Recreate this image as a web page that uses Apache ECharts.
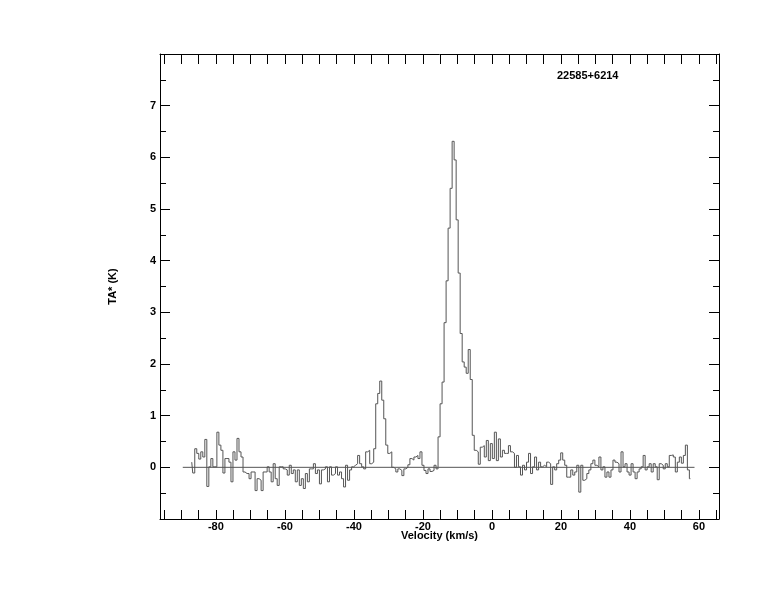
<!DOCTYPE html>
<html>
<head>
<meta charset="utf-8">
<script src="https://cdn.jsdelivr.net/npm/echarts@6/dist/echarts.min.js"></script>
<style>
html,body{margin:0;padding:0;background:#fff;}
#chart{width:774px;height:612px;}
</style>
</head>
<body>
<div id="chart"></div>
<script>
// ---- data ----
const sourceName = '22585+6214';
const velocityStart = -87.0;     // km/s, first channel centre
const channelWidth = 0.5827;     // km/s
const antennaTemp = [
 0.10,-0.11,0.36,0.27,0.16,0.30,0.20,0.54,-0.37,0.01,
 0.17,0.01,0.01,0.68,0.43,0.33,-0.11,0.17,0.17,0.10,
 -0.28,0.30,0.14,0.56,0.30,0.20,-0.09,-0.12,-0.12,-0.22,
 -0.09,-0.09,-0.45,-0.22,-0.25,-0.45,-0.09,-0.09,0.01,-0.09,
 -0.28,0.07,-0.22,-0.35,0.01,0.01,-0.03,-0.05,-0.15,0.04,
 -0.12,-0.05,-0.28,-0.05,-0.35,-0.22,-0.41,-0.12,-0.28,-0.03,
 -0.03,0.07,-0.12,-0.05,-0.32,-0.05,-0.03,0.01,-0.28,0.01,
 -0.15,-0.12,0.01,-0.15,-0.09,-0.22,-0.38,0.04,-0.25,-0.05,
 0.01,0.04,0.07,0.23,0.07,0.01,-0.03,0.30,0.33,0.07,
 0.10,0.36,
 1.23,1.43,1.67,1.30,0.94,0.43,0.27,0.30,
 0.0,-0.03,-0.09,-0.03,-0.06,-0.16,-0.03,0.0,0.05,0.17,
 0.14,0.20,0.23,0.17,0.30,0.04,-0.06,-0.12,-0.03,-0.08,
 -0.06,0.04,-0.03,
 0.59,1.23,1.65,2.80,3.61,4.63,5.40,6.31,5.95,4.79,
 3.76,2.59,2.04,1.94,1.82,2.28,1.70,0.62,
 0.33,0.30,0.06,0.39,0.42,0.20,0.52,0.13,0.46,0.17,
 0.68,0.13,0.55,0.20,0.33,0.27,0.27,0.42,0.30,0.27,
 0.0,
 0.23,0.01,-0.15,0.04,-0.05,0.10,0.27,-0.12,0.01,0.20,
 -0.05,0.10,0.01,0.04,0.01,0.10,0.07,-0.33,0.01,-0.05,
 0.07,0.14,0.28,0.14,0.04,-0.19,-0.19,-0.05,-0.15,-0.09,
 0.04,-0.48,0.04,-0.25,-0.22,-0.12,-0.05,0.07,0.14,0.04,
 0.01,0.20,-0.05,0.01,
 -0.19,-0.09,-0.19,-0.05,0.14,0.10,0.07,-0.09,0.30,0.01,
 0.07,-0.09,-0.15,0.07,-0.09,-0.22,-0.09,-0.03,0.01,0.23,
 -0.05,0.01,0.07,-0.09,0.07,0.01,-0.24,0.07,0.04,-0.03,
 0.07,0.01,0.23,0.24,0.20,-0.09,0.10,0.20,0.08,0.23,
 0.43,-0.05,-0.22
];
const baselineRange = [-89.6, 58.7];
const xTickValues = [-95,-90,-85,-80,-75,-70,-65,-60,-55,-50,-45,-40,-35,-30,-25,-20,-15,-10,-5,0,5,10,15,20,25,30,35,40,45,50,55,60,65];
const xLabelValues = [-80,-60,-40,-20,0,20,40,60];
const yLabelValues = [0,1,2,3,4,5,6,7];
const xRange = [-96.2, 65.8];
const yRange = [-1, 8];

// ---- build ----
const spectrum = antennaTemp.map((t, i) => [velocityStart + i * channelWidth, t]);
const baseline = baselineRange.map(v => [v, 0]);

const font = {color:'#000', fontFamily:'Liberation Sans, Arial, sans-serif', fontWeight:'bold', fontSize:11};

const chart = echarts.init(document.getElementById('chart'), null, {renderer:'canvas'});
chart.setOption({
  animation:false,
  backgroundColor:'#fff',
  title:{text:sourceName, left:557, top:70, padding:0, textStyle:Object.assign({}, font)},
  grid:{left:160, right:55, top:54, bottom:93, containLabel:false},
  xAxis:[
    {type:'value', position:'bottom', min:xRange[0], max:xRange[1],
     axisLine:{show:true, onZero:false, lineStyle:{color:'#000', width:1}},
     axisTick:{show:true, inside:true, length:9, customValues:xTickValues, lineStyle:{color:'#000'}},
     axisLabel:Object.assign({show:true, customValues:xLabelValues, margin:2}, font),
     splitLine:{show:false},
     name:'Velocity (km/s)', nameLocation:'middle', nameGap:11, nameMoveOverlap:false,
     nameTextStyle:Object.assign({}, font)},
    {type:'value', position:'top', min:xRange[0], max:xRange[1],
     axisLine:{show:true, onZero:false, lineStyle:{color:'#000', width:1}},
     axisTick:{show:true, inside:true, length:10, customValues:xTickValues, lineStyle:{color:'#000'}},
     axisLabel:{show:false}, splitLine:{show:false}}
  ],
  yAxis:[
    {type:'value', position:'left', min:yRange[0], max:yRange[1], interval:1,
     axisLine:{show:true, onZero:false, lineStyle:{color:'#000', width:1}},
     axisTick:{show:true, inside:true, length:10, lineStyle:{color:'#000'}},
     minorTick:{show:true, splitNumber:2, length:6, lineStyle:{color:'#000'}},
     axisLabel:Object.assign({show:true, customValues:yLabelValues, margin:4}, font),
     splitLine:{show:false},
     name:'TA* (K)', nameLocation:'middle', nameRotate:90, nameGap:42, nameMoveOverlap:false,
     nameTextStyle:Object.assign({}, font)},
    {type:'value', position:'right', min:yRange[0], max:yRange[1], interval:1,
     axisLine:{show:true, onZero:false, lineStyle:{color:'#000', width:1}},
     axisTick:{show:true, inside:true, length:10, lineStyle:{color:'#000'}},
     minorTick:{show:true, splitNumber:2, length:6, lineStyle:{color:'#000'}},
     axisLabel:{show:false}, splitLine:{show:false}}
  ],
  series:[
    {type:'line', data:baseline, xAxisIndex:0, yAxisIndex:0, showSymbol:false, silent:true,
     lineStyle:{color:'#555', width:1}, z:1},
    {type:'line', data:spectrum, xAxisIndex:0, yAxisIndex:0, step:'middle', showSymbol:false,
     lineStyle:{color:'#555', width:1}, z:2}
  ]
});
</script>
</body>
</html>
